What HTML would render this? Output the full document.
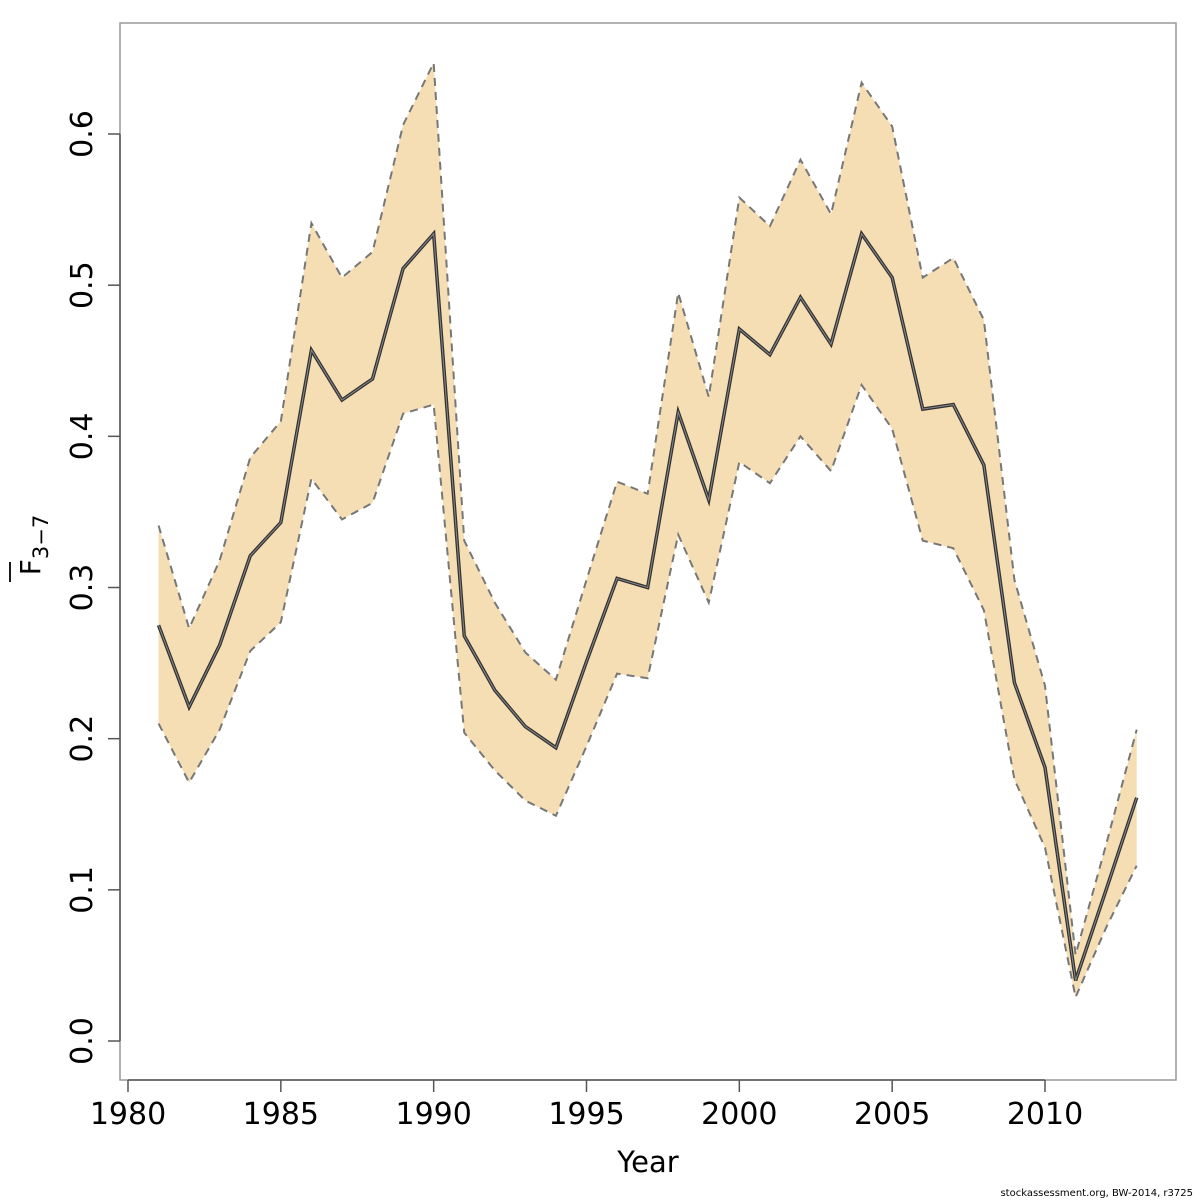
<!DOCTYPE html>
<html><head><meta charset="utf-8"><style>
html,body{margin:0;padding:0;background:#fff;}
svg{display:block;font-family:"DejaVu Sans","Liberation Sans",sans-serif;}
</style></head><body>
<svg id="chart" width="1200" height="1200" viewBox="0 0 1200 1200" xmlns="http://www.w3.org/2000/svg">
<rect width="1200" height="1200" fill="#fff"/>
<g id="plot"></g>
<rect x="120" y="23" width="1056" height="1057" fill="none" stroke="#999" stroke-width="1.5"/>
<g id="axes"></g>
<text x="648" y="1172" font-size="29" text-anchor="middle">Year</text>
<g transform="translate(40,545) rotate(-90)">
<text x="0" y="0" font-size="28" text-anchor="middle">F<tspan font-size="21" dy="8">3−7</tspan></text>
</g>
<line x1="10" y1="562" x2="10" y2="582" stroke="#000" stroke-width="1.8"/>
<text x="1193" y="1196" font-size="10" text-anchor="end">stockassessment.org, BW-2014, r3725</text>
</svg>
<script>
const years=[1981,1982,1983,1984,1985,1986,1987,1988,1989,1990,1991,1992,1993,1994,1995,1996,1997,1998,1999,2000,2001,2002,2003,2004,2005,2006,2007,2008,2009,2010,2011,2012,2013];
const fbar=[.275,.221,.262,.321,.343,.457,.424,.438,.511,.534,.268,.232,.208,.194,.251,.306,.300,.416,.358,.471,.454,.492,.461,.534,.505,.418,.421,.381,.237,.181,.040,.100,.161];
const upper=[.341,.273,.318,.386,.410,.541,.505,.522,.606,.647,.331,.290,.257,.239,.305,.370,.362,.495,.426,.558,.539,.583,.547,.634,.605,.505,.518,.477,.305,.235,.057,.130,.206];
const lower=[.210,.171,.206,.258,.277,.372,.345,.356,.415,.421,.204,.179,.159,.149,.195,.243,.240,.335,.290,.383,.369,.400,.377,.434,.405,.331,.326,.285,.173,.128,.029,.075,.116];
const xTicks=[1980,1985,1990,1995,2000,2005,2010];
const yTicks=[0.0,0.1,0.2,0.3,0.4,0.5,0.6];
const yTickLabels=["0.0","0.1","0.2","0.3","0.4","0.5","0.6"];
const NS="http://www.w3.org/2000/svg";
const xS=v=>128+(v-1980)*(1045-128)/30;
const yS=v=>1041-v*(1041-134)/0.6;
const plot=document.getElementById('plot'),axes=document.getElementById('axes');
function mk(t,a,p){const e=document.createElementNS(NS,t);for(const k in a)e.setAttribute(k,a[k]);p.appendChild(e);return e;}
let band=years.map((y,i)=>xS(y)+','+yS(upper[i])).concat(years.map((y,i)=>xS(y)+','+yS(lower[i])).reverse()).join(' ');
const poly=mk('polygon',{points:band,fill:'#F5DEB3',stroke:'none'},plot);


[[upper,'upper-bound-line'],[lower,'lower-bound-line']].forEach(([arr,n])=>{
const l=mk('polyline',{points:years.map((y,i)=>xS(y)+','+yS(arr[i])).join(' '),fill:'none',stroke:'#777','stroke-width':2,'stroke-dasharray':'8,6'},plot);


});
const pts=years.map((y,i)=>xS(y)+','+yS(fbar[i])).join(' ');
const m1=mk('polyline',{points:pts,fill:'none',stroke:'#333','stroke-width':3.5},plot);


const m2=mk('polyline',{points:pts,fill:'none',stroke:'#888','stroke-width':1},plot);


const xa=mk('line',{x1:xS(1980),x2:xS(2010),y1:1080,y2:1080,stroke:'#555','stroke-width':1.5},axes);


xTicks.forEach(t=>{
const tk=mk('line',{x1:xS(t),x2:xS(t),y1:1080,y2:1092,stroke:'#555','stroke-width':1.5},axes);


const tx=mk('text',{x:xS(t),y:1124,'font-size':30,'text-anchor':'middle'},axes);
tx.textContent=t;


});
const ya=mk('line',{x1:120,x2:120,y1:yS(0),y2:yS(0.6),stroke:'#555','stroke-width':1.5},axes);


yTicks.forEach((t,i)=>{
const tk=mk('line',{x1:108,x2:120,y1:yS(t),y2:yS(t),stroke:'#555','stroke-width':1.5},axes);


const tx=mk('text',{x:0,y:0,'font-size':30,'text-anchor':'middle',transform:`translate(92,${yS(t)}) rotate(-90)`},axes);
tx.textContent=yTickLabels[i];


});
</script>
</body></html>
